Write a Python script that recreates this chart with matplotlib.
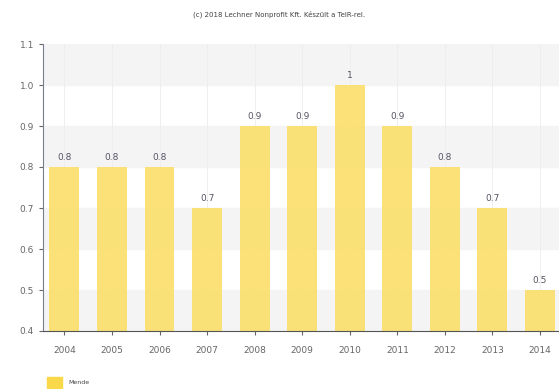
import matplotlib.pyplot as plt
import matplotlib.patches as mpatches

years = ['2004', '2005', '2006', '2007', '2008', '2009', '2010', '2011', '2012', '2013', '2014']
values = [0.8, 0.8, 0.8, 0.7, 0.9, 0.9, 1.0, 0.9, 0.8, 0.7, 0.5]
labels = ['0.8', '0.8', '0.8', '0.7', '0.9', '0.9', '1', '0.9', '0.8', '0.7', '0.5']
yticks = [0.4, 0.5, 0.6, 0.7, 0.8, 0.9, 1.0, 1.1]

fig = plt.figure(figsize=(5.59, 3.89), dpi=100)
ax = fig.add_axes([43/559, 1 - 331/389, 516/559, (331 - 44)/389])

# alternating bands
for i in range(len(yticks) - 1):
    if i % 2 == 0:
        ax.axhspan(yticks[i], yticks[i + 1], color='#f4f4f4', zorder=0)
for i in range(len(years)):
    ax.axvline(i, color='#ececec', lw=0.6, zorder=0.5)

x = list(range(len(years)))
ax.bar(x, [v - 0.4 for v in values], bottom=0.4, width=0.63, color='#fbe070', alpha=0.95, zorder=2)
for xi, v, l in zip(x, values, labels):
    ax.text(xi, v + 0.012, l, ha='center', va='bottom', fontsize=6.5, color='#555566', zorder=3)

ax.set_xlim(-0.45, 10.4)
ax.set_ylim(0.4, 1.1)
ax.set_xticks(x)
ax.set_xticklabels(years)
ax.set_yticks(yticks)
ax.set_yticklabels(['%.1f' % t for t in yticks])
ax.tick_params(labelsize=6.5, colors='#666666', length=3, width=0.8)
ax.tick_params(axis='x', pad=8)
for s in ['top', 'right']:
    ax.spines[s].set_visible(False)
ax.spines['left'].set_color('#7a7f90')
ax.spines['bottom'].set_color('#555555')

fig.text(0.5, 1 - 14/389, '(c) 2018 Lechner Nonprofit Kft. Készült a TeIR-rel.',
         ha='center', va='center', fontsize=5, color='#444444')

fig.patches.append(mpatches.Rectangle((47/559, 1 - 388/389), 15/559, 11/389,
                                      transform=fig.transFigure, color='#f9d84a', figure=fig))
fig.text(68/559, 1 - 382/389, 'Mende', ha='left', va='center', fontsize=4.5, color='#444444')

fig.savefig('out.png', dpi=100)
